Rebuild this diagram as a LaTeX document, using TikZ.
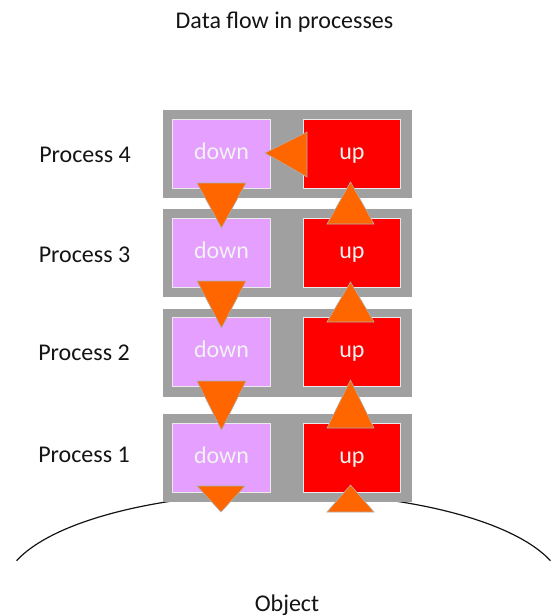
\documentclass[tikz,border=0pt]{standalone}
\usepackage{fontspec}
\setmainfont{Carlito}
\definecolor{stripgray}{RGB}{160,160,160}
\definecolor{lilac}{RGB}{229,160,255}
\definecolor{upred}{RGB}{255,0,0}
\definecolor{flow}{RGB}{255,102,0}
\definecolor{flowedge}{RGB}{175,175,175}
\definecolor{boxedge}{RGB}{235,235,235}
\definecolor{ink}{RGB}{20,20,20}
\begin{document}
\begin{tikzpicture}[x=1pt,y=-1pt,
  every node/.style={font=\fontsize{24}{28}\selectfont},
  lbl/.style={text=ink, inner sep=0pt, anchor=base},
  strip/.style={rectangle, fill=stripgray, draw=none, minimum width=249pt, minimum height=88pt, inner sep=0pt},
  stagebox/.style={rectangle, draw=boxedge, line width=0.9pt, text=white!95!black,
    minimum height=69pt, inner sep=0pt, text height=12pt, text depth=0pt},
  downbox/.style={stagebox, fill=lilac, minimum width=98pt},
  upbox/.style={stagebox, fill=upred, minimum width=97pt},
  tri/.style={fill=flow, draw=flowedge, line width=0.6pt, line join=miter}
]
\useasboundingbox (0,0) rectangle (550,616);

% title
\node[lbl] (title) at (284.5,28) {Data flow in processes};

% the object the processes work on
\draw[ink, line width=1.2pt] (283.5,590) ++(197.6:280 and 97) arc (197.6:342.4:280 and 97);
\node[lbl] (object) at (287,611.5) {Object};

% process strips
\node[strip] (s4) at (287,154) {};
\node[strip] (s3) at (287,253) {};
\node[strip] (s2) at (287,352.5) {};
\node[strip] (s1) at (287,458) {};

% down / up stages
\node[downbox] (d4) at (221.5,153.5) {down};
\node[upbox]   (u4) at (352,153.5) {up};
\node[downbox] (d3) at (221.5,252.5) {down};
\node[upbox]   (u3) at (352,252.5) {up};
\node[downbox] (d2) at (221.5,351.5) {down};
\node[upbox]   (u2) at (352,351.5) {up};
\node[downbox] (d1) at (221.5,457.5) {down};
\node[upbox]   (u1) at (352,457.5) {up};

% process labels
\node[lbl] (p4) at (85,162) {Process 4};
\node[lbl] (p3) at (84.5,262) {Process 3};
\node[lbl] (p2) at (84,360) {Process 2};
\node[lbl] (p1) at (84,462) {Process 1};

% downward flow
\path[tri] (197,183) -- (246,183) -- (221.5,228) -- cycle;
\path[tri] (197,281) -- (246,281) -- (221.5,328) -- cycle;
\path[tri] (197,381) -- (246,381) -- (221.5,430) -- cycle;
\path[tri] (197,486) -- (245,486) -- (221,512) -- cycle;

% upward flow
\path[tri] (327,224) -- (374,224) -- (350.5,182) -- cycle;
\path[tri] (327,322) -- (374,322) -- (350.5,282) -- cycle;
\path[tri] (327,428) -- (374,428) -- (350.5,380) -- cycle;
\path[tri] (327,512) -- (374,512) -- (350.5,485) -- cycle;

% turnaround at the top process
\path[tri] (307,132) -- (307,177) -- (265,153) -- cycle;
\end{tikzpicture}
\end{document}
